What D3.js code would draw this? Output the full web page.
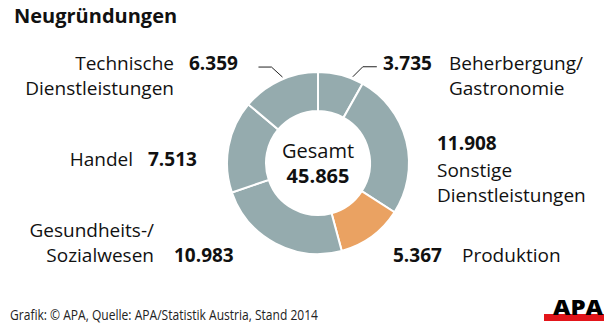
<!DOCTYPE html>
<html><head><meta charset="utf-8">
<script src="https://cdn.jsdelivr.net/npm/d3@7"></script>
<style>
body{margin:0;background:#fff;}
svg{display:block;font-family:"Open Sans",sans-serif;}
</style></head>
<body><svg id="c" width="616" height="333"></svg>
<script>
const categories = ["Beherbergung/ Gastronomie","Sonstige Dienstleistungen","Produktion","Gesundheits-/ Sozialwesen","Handel","Technische Dienstleistungen"];
const values = [3735, 11908, 5367, 10983, 7513, 6359];
const valueLabels = ["3.735","11.908","5.367","10.983","7.513","6.359"];
const highlight = [false,false,true,false,false,false];
const totalLabel = "45.865";

const svg = d3.select("#c");
const cx = 318, cy = 163, rO = 91, rI = 52;
const colors = d => d ? "#eaa262" : "#95abae";

svg.append("text").attr("x",14).attr("y",23).attr("font-size",20).attr("font-weight",700)
  .attr("fill","#111").text("Neugründungen");

const pie = d3.pie().sort(null).value(d=>d)(values);
const arc = d3.arc().innerRadius(rI).outerRadius(rO);
const g = svg.append("g").attr("transform",`translate(${cx},${cy})`);
g.selectAll("path").data(pie).join("path").attr("d",arc)
  .attr("fill",(d,i)=>colors(highlight[i])).attr("stroke","#fff").attr("stroke-width",2);

g.append("text").attr("text-anchor","middle").attr("y",-5).attr("font-size",20).attr("fill","#111").text("Gesamt");
g.append("text").attr("text-anchor","middle").attr("y",20).attr("font-size",20).attr("font-weight",700).attr("fill","#111").text(totalLabel);

// leader lines
function pt(a,r){return [cx+r*Math.sin(a), cy-r*Math.cos(a)];}
const a0 = pie[0].startAngle + (pie[0].endAngle-pie[0].startAngle)*0.75;
const p0 = pt(a0, rO+2);
svg.append("path").attr("fill","none").attr("stroke","#222").attr("stroke-width",1)
  .attr("d",`M${p0[0]},${p0[1]}L${p0[0]+10},${p0[1]-10}L${p0[0]+24},${p0[1]-10}`);
const a5 = pie[5].startAngle + (pie[5].endAngle-pie[5].startAngle)*0.55;
const p5 = pt(a5, rO+2);
svg.append("path").attr("fill","none").attr("stroke","#222").attr("stroke-width",1)
  .attr("d",`M${p5[0]},${p5[1]}L${p5[0]-11},${p5[1]-10}L${p5[0]-24},${p5[1]-10}`);

const fs = 19;
function txt(x,y,s,opt={}){
  return svg.append("text").attr("x",x).attr("y",y).attr("font-size",fs)
   .attr("font-weight",opt.bold?700:400).attr("text-anchor",opt.anchor||"start").attr("fill","#111").text(s);
}
// Beherbergung
txt(383,70,valueLabels[0],{bold:true});
txt(449,70,"Beherbergung/"); txt(449,95,"Gastronomie");
// Sonstige
txt(437,150,valueLabels[1],{bold:true});
txt(437,177,"Sonstige"); txt(437,202,"Dienstleistungen");
// Produktion
txt(393,262,valueLabels[2],{bold:true}); txt(462,262,"Produktion");
// Gesundheit
txt(154,237,"Gesundheits-/",{anchor:"end"}); txt(154,262,"Sozialwesen",{anchor:"end"});
txt(174,262,valueLabels[3],{bold:true});
// Handel
txt(133,166,"Handel",{anchor:"end"}); txt(148,166,valueLabels[4],{bold:true});
// Technische
txt(174,70,"Technische",{anchor:"end"}); txt(174,95,"Dienstleistungen",{anchor:"end"});
txt(189,70,valueLabels[5],{bold:true});

svg.append("text").attr("x",10).attr("y",320).attr("font-size",14).attr("fill","#222")
  .attr("textLength",308).attr("lengthAdjust","spacingAndGlyphs")
  .text("Grafik: © APA, Quelle: APA/Statistik Austria, Stand 2014");

// logo
svg.append("rect").attr("x",544).attr("y",314).attr("width",60).attr("height",7).attr("fill","#e3151a");
svg.append("text").attr("x",578).attr("y",315).attr("text-anchor","middle").attr("font-size",21)
  .attr("font-weight",800).attr("fill","#000").attr("textLength",50).attr("lengthAdjust","spacingAndGlyphs").text("APA");
</script></body></html>
